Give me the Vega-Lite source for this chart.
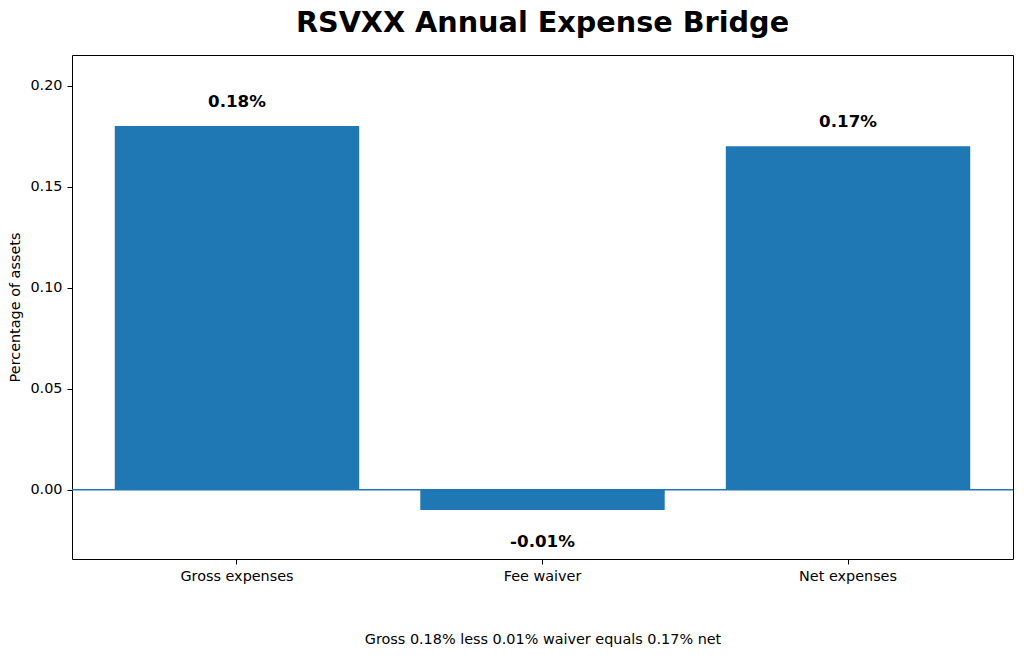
{
  "$schema": "https://vega.github.io/schema/vega-lite/v6.json",
  "width": 941,
  "height": 504,
  "autosize": {"type": "none"},
  "padding": {"left": 72, "top": 55, "right": 11, "bottom": 100},
  "background": "white",
  "config": {
    "font": "DejaVu Sans",
    "view": {"stroke": "#000000", "strokeWidth": 1},
    "axis": {"grid": false, "domain": false, "tickColor": "#000000", "labelColor": "#000000", "titleColor": "#000000", "tickSize": 5, "labelPadding": 5, "labelFontSize": 14.4, "titleFontSize": 14.4, "titleFontWeight": "normal"}
  },
  "title": {"text": "RSVXX Annual Expense Bridge", "fontSize": 28.7, "fontWeight": "bold", "color": "#000000", "anchor": "middle", "offset": 17},
  "data": {"values": [
    {"category": "Gross expenses", "value": 0.18, "label": "0.18%"},
    {"category": "Fee waiver", "value": -0.01, "label": "-0.01%"},
    {"category": "Net expenses", "value": 0.17, "label": "0.17%"}
  ]},
  "encoding": {
    "x": {"field": "category", "type": "nominal", "sort": null,
      "scale": {"type": "band", "paddingInner": 0.2, "paddingOuter": 0.14},
      "axis": {"labelAngle": 0, "title": "Gross 0.18% less 0.01% waiver equals 0.17% net", "titlePadding": 50}}
  },
  "layer": [
    {
      "mark": {"type": "bar", "color": "#1f77b4"},
      "encoding": {
        "y": {"field": "value", "type": "quantitative",
          "scale": {"domain": [-0.0343, 0.2152], "nice": false, "zero": false},
          "axis": {"values": [0, 0.05, 0.1, 0.15, 0.2], "format": ".2f", "title": "Percentage of assets", "titlePadding": 7}}
      }
    },
    {
      "mark": {"type": "rule", "color": "#1f77b4", "strokeWidth": 1},
      "encoding": {"y": {"datum": 0}, "x": {"value": 0}, "x2": {"value": 941}}
    },
    {
      "transform": [{"filter": "datum.value >= 0"}],
      "mark": {"type": "text", "fontSize": 16.7, "fontWeight": "bold", "baseline": "alphabetic", "dy": -19, "color": "#000000"},
      "encoding": {"y": {"field": "value", "type": "quantitative"}, "text": {"field": "label"}}
    },
    {
      "transform": [{"filter": "datum.value < 0"}],
      "mark": {"type": "text", "fontSize": 16.7, "fontWeight": "bold", "baseline": "alphabetic", "dy": 37, "color": "#000000"},
      "encoding": {"y": {"field": "value", "type": "quantitative"}, "text": {"field": "label"}}
    }
  ]
}
